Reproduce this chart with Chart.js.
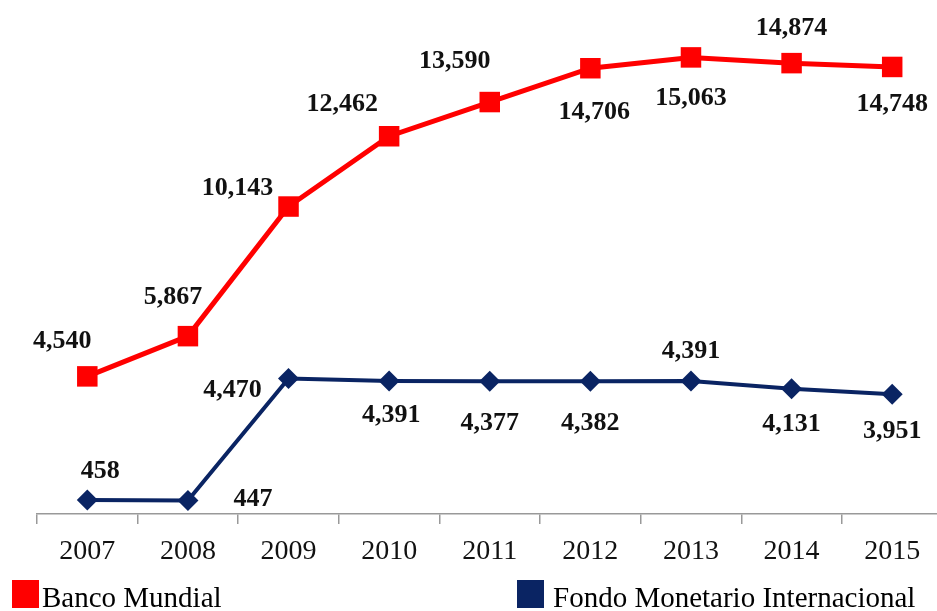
<!DOCTYPE html>
<html>
<head>
<meta charset="utf-8">
<script src="https://cdn.jsdelivr.net/npm/chart.js@4/dist/chart.umd.min.js"></script>
<style>
    html, body { margin: 0; padding: 0; background: #fff; overflow: hidden; }
    canvas { display: block; }
</style>
</head>
<body>
<canvas id="chart" width="957" height="611"></canvas>
<script>
const years = ['2007', '2008', '2009', '2010', '2011', '2012', '2013', '2014', '2015'];
const bancoMundial = [4540, 5867, 10143, 12462, 13590, 14706, 15063, 14874, 14748];
const fondoMonetario = [458, 447, 4470, 4391, 4377, 4382, 4391, 4131, 3951];
const seriesNames = ['Banco Mundial', 'Fondo Monetario Internacional'];

// label offsets from each point, in px
const bancoLabelOffsets = [[-25, -35], [-15, -39], [-51, -18], [-47, -32], [-35, -41], [4, 44], [0, 41], [0, -35], [0, 37]];
const fondoLabelOffsets = [[13, -29], [65, -1], [-56, 12], [2, 34], [0, 42], [0, 42], [0, -30], [0, 36], [0, 37]];

const RED = '#ff0000';
const NAVY = '#0a2463';
const SERIF = '"Liberation Serif", "Times New Roman", serif';

const dataLabels = {
    id: 'dataLabels',
    afterDatasetsDraw(chart) {
        const ctx = chart.ctx;
        const offsets = [bancoLabelOffsets, fondoLabelOffsets];
        ctx.save();
        ctx.font = 'bold 26px ' + SERIF;
        ctx.fillStyle = '#111';
        ctx.textAlign = 'center';
        ctx.textBaseline = 'middle';
        chart.data.datasets.forEach((ds, i) => {
            chart.getDatasetMeta(i).data.forEach((pt, j) => {
                const [dx, dy] = offsets[i][j];
                ctx.fillText(ds.data[j].toLocaleString('en-US'), pt.x + dx, pt.y + dy);
            });
        });
        ctx.restore();
    }
};

const bottomLegend = {
    id: 'bottomLegend',
    afterDraw(chart) {
        const ctx = chart.ctx;
        const items = [{ x: 12, textX: 42 }, { x: 517, textX: 553 }];
        ctx.save();
        ctx.font = '29px ' + SERIF;
        ctx.textBaseline = 'alphabetic';
        chart.data.datasets.forEach((ds, i) => {
            ctx.fillStyle = ds.borderColor;
            ctx.fillRect(items[i].x, 580, 27, 28);
            ctx.fillStyle = '#000';
            ctx.fillText(ds.label, items[i].textX, 607);
        });
        ctx.restore();
    }
};

new Chart(document.getElementById('chart'), {
    type: 'line',
    data: {
        labels: years,
        datasets: [{
            label: seriesNames[0],
            data: bancoMundial,
            borderColor: RED,
            backgroundColor: RED,
            borderWidth: 5,
            pointStyle: 'rect',
            pointRadius: 14.5,
            pointBorderWidth: 0,
            tension: 0
        }, {
            label: seriesNames[1],
            data: fondoMonetario,
            borderColor: NAVY,
            backgroundColor: NAVY,
            borderWidth: 4,
            pointStyle: 'rectRot',
            pointRadius: 10.5,
            pointBorderWidth: 0,
            tension: 0
        }]
    },
    options: {
        responsive: false,
        animation: false,
        clip: false,
        layout: {
            padding: { left: 37, right: 7, top: 29, bottom: 35 }
        },
        plugins: {
            legend: { display: false },
            tooltip: { enabled: false }
        },
        scales: {
            x: {
                offset: true,
                grid: {
                    offset: true,
                    drawOnChartArea: false,
                    drawTicks: true,
                    tickLength: 10,
                    color: '#999',
                    lineWidth: 1.5
                },
                border: { color: '#999', width: 1.5 },
                ticks: {
                    color: '#111',
                    padding: 11,
                    font: { family: SERIF, size: 28 }
                },
                afterFit(scale) {
                    scale.height = 62;
                }
            },
            y: {
                display: false,
                min: 0,
                max: 16000
            }
        }
    },
    plugins: [dataLabels, bottomLegend]
});
</script>
</body>
</html>
